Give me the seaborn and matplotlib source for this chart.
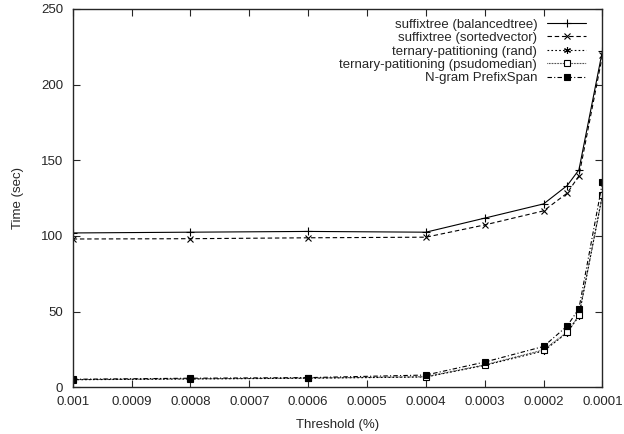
import numpy as np
import pandas as pd
import seaborn as sns
import matplotlib
matplotlib.use("Agg")
import matplotlib.pyplot as plt
from matplotlib.ticker import FixedLocator, FixedFormatter

# data
threshold = [0.001, 0.0008, 0.0006, 0.0004, 0.0003, 0.0002, 0.00016, 0.00014, 0.0001]
balanced = [102.0, 102.5, 103.0, 102.5, 111.8, 121.2, 133.3, 143.7, 222.5]
sortedvec = [98.0, 98.2, 98.8, 99.2, 107.3, 116.6, 128.3, 139.7, 219.5]
rand = [5.0, 5.5, 6.0, 6.8, 14.5, 24.0, 36.0, 47.0, 127.5]
psudomedian = [5.1, 5.6, 6.1, 7.0, 14.8, 24.7, 36.5, 47.5, 126.8]
ngram = [5.3, 6.0, 6.4, 8.1, 16.7, 27.0, 40.5, 52.0, 135.5]

names = ["suffixtree (balancedtree)", "suffixtree (sortedvector)",
         "ternary-patitioning (rand)", "ternary-patitioning (psudomedian)",
         "N-gram PrefixSpan"]
series = [balanced, sortedvec, rand, psudomedian, ngram]

xticks = [0.001, 0.0009, 0.0008, 0.0007, 0.0006, 0.0005, 0.0004, 0.0003, 0.0002, 0.0001]
xticklabels = ["0.001", "0.0009", "0.0008", "0.0007", "0.0006",
               "0.0005", "0.0004", "0.0003", "0.0002", "0.0001"]
yticks = [0, 50, 100, 150, 200, 250]

sns.set_style("ticks")
plt.rcParams['font.family'] = ['Liberation Sans', 'DejaVu Sans']
plt.rcParams['font.size'] = 9.5

styles = [
    dict(linestyle='-', marker='+', markersize=6, mfc='black'),
    dict(linestyle=(0, (4, 2.5)), marker='x', markersize=4.5, mfc='black'),
    dict(linestyle=(0, (1.5, 2)), marker=(6, 2, 0), markersize=5, mfc='black'),
    dict(linestyle=(0, (0.6, 0.8)), marker='s', markersize=4.5, mfc='white'),
    dict(linestyle=(0, (4, 2, 1, 2)), marker='s', markersize=5, mfc='black'),
]

fig = plt.figure(figsize=(6.24, 4.34), dpi=100)
ax = fig.add_axes([0.1165, 0.1076, 0.849, 0.8717])

for name, vals, st in zip(names, series, styles):
    df = pd.DataFrame({"Threshold": threshold, "Time": vals})
    sns.lineplot(data=df, x="Threshold", y="Time", ax=ax, color='black',
                 linewidth=0.8, label=name, mec='black', mew=0.8, **st)

ax.set_xlim(0.001, 0.0001)
ax.set_ylim(0, 250)
ax.xaxis.set_major_locator(FixedLocator(xticks))
ax.xaxis.set_major_formatter(FixedFormatter(xticklabels))
ax.set_yticks(yticks)
ax.tick_params(direction='in', length=5, width=0.8, top=True, right=True,
               labelsize=9.5)
ax.tick_params(axis='x', pad=6)
ax.tick_params(axis='y', pad=7)
for s in ax.spines.values():
    s.set_linewidth(1.0)
ax.set_xlabel("Threshold (%)", fontsize=9.5, labelpad=8)
ax.set_ylabel("Time (sec)", fontsize=9.5, labelpad=12)

leg = ax.legend(loc='upper right', bbox_to_anchor=(0.969, 0.975),
                frameon=False, markerfirst=False, borderaxespad=0, borderpad=0,
                handlelength=2.95, handletextpad=0.75, labelspacing=0.09,
                fontsize=9.5, numpoints=1)

plt.savefig("out.png", dpi=100)
